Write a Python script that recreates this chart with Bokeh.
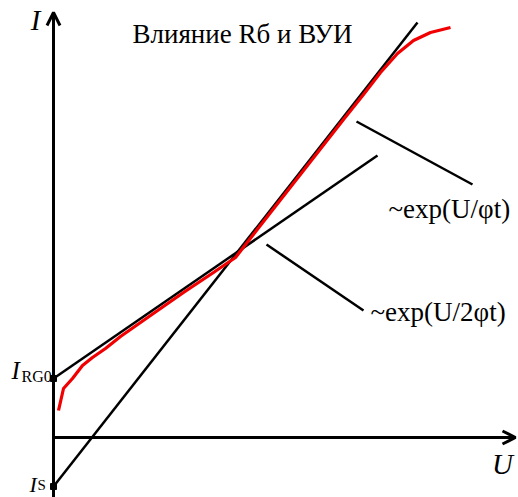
from bokeh.plotting import figure
from bokeh.models import Range1d, Arrow, OpenHead, ColumnDataSource
from bokeh.core.properties import value
from bokeh.embed import file_html
from bokeh.resources import INLINE

# Current-voltage characteristic sketch (U horizontal, I vertical), arbitrary units
# Measured curve
curve_u = [5, 10, 19, 29, 39, 52, 67, 97, 130, 160, 182, 210, 250, 290, 310, 327, 344, 360, 377, 397]
curve_i = [27, 49, 59, 72, 80, 89, 101, 122, 145, 165, 180, 216, 267, 318, 343, 365, 384, 397, 405, 410]

# Asymptotes: ~exp(U/phi_t) starting at Is, ~exp(U/2phi_t) starting at I_RG0
steep_u = [0, 364]
steep_i = [-49, 415]
gentle_u = [0, 324]
gentle_i = [59, 282]

# Marked intercepts on the I axis
intercept_u = [0, 0]
intercept_i = [-49, 59]

# Leader lines for the annotations
leader_u0 = [309, 303, 213]
leader_i0 = [465, 316, 193]
leader_u1 = [379, 419, 310]
leader_i1 = [472, 253, 127]

# Annotation texts
note_text = ["Влияние Rб и ВУИ", "~exp(U/φt)", "~exp(U/2φt)"]
note_u = [79, 335, 317]
note_i = [404, 229, 126]

# Axis extents
u_axis_end = 462
i_axis_bottom = -60
i_axis_end = 425

SERIF = value("Liberation Serif")

p = figure(width=518, height=497, output_backend="svg", toolbar_location=None,
           x_range=Range1d(-53, 465), y_range=Range1d(-60, 437),
           min_border=0, min_border_left=0, min_border_right=0,
           min_border_top=0, min_border_bottom=0)
p.axis.visible = False
p.grid.visible = False
p.outline_line_color = None
p.background_fill_color = "white"
p.border_fill_color = "white"

# Coordinate axes with open arrowheads
p.add_layout(Arrow(end=OpenHead(size=13, line_width=3, line_color="black"),
                   x_start=0, y_start=i_axis_bottom, x_end=0, y_end=i_axis_end,
                   line_width=3, line_color="black"))
p.add_layout(Arrow(end=OpenHead(size=13, line_width=3, line_color="black"),
                   x_start=0, y_start=0, x_end=u_axis_end, y_end=0,
                   line_width=3, line_color="black"))

# Asymptotic straight lines
p.line(steep_u, steep_i, line_color="black", line_width=2.5)
p.line(gentle_u, gentle_i, line_color="black", line_width=2.5)

# Real characteristic
p.line(curve_u, curve_i, line_color="#f00000", line_width=3.2, line_join="round")

# Intercept dots
p.scatter(intercept_u, intercept_i, size=6, marker="square", color="black")

# Leader lines
p.segment(x0=leader_u0, y0=leader_i0, x1=leader_u1, y1=leader_i1,
          line_color="black", line_width=2.5)

# Annotations
src = ColumnDataSource(dict(u=note_u, i=note_i, t=note_text))
p.text(x="u", y="i", text="t", source=src, text_font=SERIF,
       text_font_size="27px", text_baseline="middle", text_align="left",
       text_color="black")

# Axis symbols
p.text(x=[-18], y=[418], text=["I"], text_font=SERIF, text_font_style="italic",
       text_font_size="29px", text_baseline="alphabetic", text_align="center")
p.text(x=[449], y=[-26], text=["U"], text_font=SERIF, text_font_style="italic",
       text_font_size="29px", text_baseline="alphabetic", text_align="center")

# I_RG0 label
p.text(x=[-42], y=[67], text=["I"], text_font=SERIF, text_font_style="italic",
       text_font_size="25px", text_baseline="alphabetic", text_align="left")
p.text(x=[-32], y=[61], text=["RG0"], text_font=SERIF,
       text_font_size="16px", text_baseline="alphabetic", text_align="left")

# Is label
p.text(x=[-24], y=[-47], text=["I"], text_font=SERIF, text_font_style="italic",
       text_font_size="22px", text_baseline="alphabetic", text_align="left")
p.text(x=[-16], y=[-47], text=["S"], text_font=SERIF,
       text_font_size="15px", text_baseline="alphabetic", text_align="left")

open("out.html", "w").write(file_html(p, INLINE))
